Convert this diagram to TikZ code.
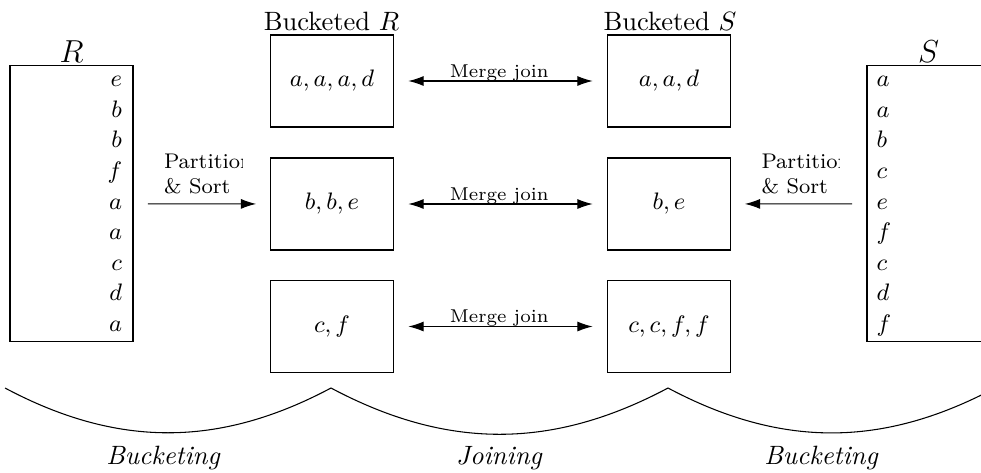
\documentclass[tikz,border=0pt]{standalone}
\usetikzlibrary{arrows.meta}

\begin{document}
\begin{tikzpicture}[x=0.3774pt, y=-0.3774pt,
  every node/.style={inner sep=0pt, outer sep=0pt},
  relation/.style={draw, minimum width=46.42pt, minimum height=104.16pt},
  bucket/.style={draw, minimum width=46.42pt, minimum height=34.72pt, font=\small},
  entry/.style={font=\small},
  title/.style={anchor=base},
  reltitle/.style={anchor=base, font=\large},
  link/.style={-{Latex[length=5.8pt, width=3.8pt]}, shorten <=5.6pt, shorten >=5.4pt},
  mergelink/.style={{Latex[length=5.8pt, width=3.8pt]}-{Latex[length=5.8pt, width=3.8pt]}, shorten <=5.6pt, shorten >=5.6pt},
  mergelabel/.style={anchor=base, font=\scriptsize, yshift=1.5pt, xshift=-0.5pt},
  steplabel/.style={anchor=north west, align=left, font=\footnotesize},
  phase/.style={anchor=base, font=\itshape}]

\useasboundingbox (0,0) rectangle (981,472);
\clip (0,0) rectangle (981,472);

% input relations
\node[relation] (R) at (71.5,203.7) {};
\node[reltitle] (Rt) at (71.5,62) {$R$};
\foreach \v [count=\i from 0] in {e,b,b,f,a,a,c,d,a}
  \node[entry, anchor=base east] (r\i) at (122,{86.7+30.6*\i}) {$\v$};

\node[relation] (S) at (928.5,203.7) {};
\node[reltitle] (St) at (928.5,62) {$S$};
\foreach \v [count=\i from 0] in {a,a,b,c,e,f,c,d,f}
  \node[entry, anchor=base west] (s\i) at (876.5,{86.7+30.6*\i}) {$\v$};

% buckets
\node[bucket] (bR1) at (332,81) {$a,a,a,d$};
\node[bucket] (bR2) at (332,204) {$b,b,e$};
\node[bucket] (bR3) at (332,326.5) {$c,f$};
\node[bucket] (bS1) at (669,81) {$a,a,d$};
\node[bucket] (bS2) at (669,204) {$b,e$};
\node[bucket] (bS3) at (669,326.5) {$c,c,f,f$};
\node[title] (hR) at (331.5,30.5) {Bucketed $R$};
\node[title] (hS) at (670,30.5) {Bucketed $S$};

% merge joins
\draw[mergelink] (bR1) -- (bS1) node[midway, mergelabel] (m1) {Merge join};
\draw[mergelink] (bR2) -- (bS2) node[midway, mergelabel] (m2) {Merge join};
\draw[mergelink] (bR3) -- (bS3) node[midway, mergelabel] (m3) {Merge join};

% partitioning
\draw[link] (R) -- (bR2);
\draw[link] (S) -- (bS2);
\begin{scope}
  \clip (150,140) rectangle (242,200);
  \node[steplabel] (pR) at (164,154) {Partition\\\& Sort};
\end{scope}
\begin{scope}
  \clip (745,140) rectangle (839.5,200);
  \node[steplabel] (pS) at (761.5,154) {Partition\\\& Sort};
\end{scope}

% phases
\coordinate (a0) at (5,388);
\coordinate (a1) at (331,388);
\coordinate (a2) at (668,388);
\coordinate (a3) at (995,388);
\draw (a0) to[bend right=28] (a1) to[bend right=28] (a2) to[bend right=28] (a3);
\node[phase] (ph1) at (163,464) {Bucketing};
\node[phase] (ph2) at (499,464) {Joining};
\node[phase] (ph3) at (821,464) {Bucketing};
\end{tikzpicture}
\end{document}
